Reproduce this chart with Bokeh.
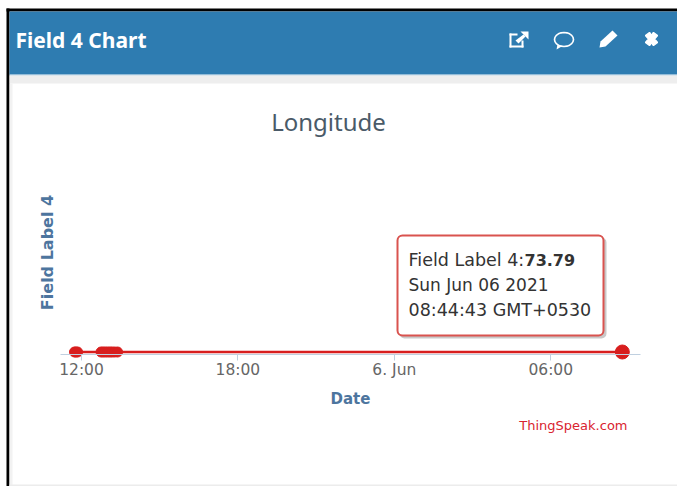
import math
from datetime import datetime
from bokeh.plotting import figure
from bokeh.models import (BoxAnnotation, PolyAnnotation, Label, Range1d, FixedTicker)
from bokeh.embed import file_html
from bokeh.resources import INLINE

times = ["2021-06-05 11:44", "2021-06-05 11:47", "2021-06-05 11:51",
         "2021-06-05 12:45", "2021-06-05 12:50", "2021-06-05 12:55", "2021-06-05 13:00",
         "2021-06-05 13:05", "2021-06-05 13:10", "2021-06-05 13:16", "2021-06-05 13:23",
         "2021-06-06 08:44:43"]
values = [73.79, 73.79, 73.79, 73.79, 73.79, 73.79, 73.79, 73.79, 73.79, 73.79, 73.79, 73.79]
tick_times = ["2021-06-05 12:00", "2021-06-05 18:00", "2021-06-06 00:00", "2021-06-06 06:00"]
tick_labels = ["12:00", "18:00", "6. Jun", "06:00"]
x_limits = ["2021-06-05 08:53:36", "2021-06-06 10:51:43"]
y_limits = [72.445, 77.305]
x_axis_at = 73.765
x_axis_span = ["2021-06-05 11:11:40", "2021-06-06 09:27:00"]
y_axis_at = "2021-06-05 11:11:40"
y_axis_span = [73.77, 75.81]

def ms(s):
    fmt = "%Y-%m-%d %H:%M:%S" if s.count(":") == 2 else "%Y-%m-%d %H:%M"
    return (datetime.strptime(s, fmt) - datetime(1970, 1, 1)).total_seconds() * 1000

xs = [ms(t) for t in times]
ticks = [ms(t) for t in tick_times]

RED = "#d81e1e"
BLUE = "#2e7cb1"
AX = "#4d759e"
W, H = 677, 486

p = figure(width=W, height=H, output_backend="svg", toolbar_location=None,
           x_axis_type="datetime",
           x_range=Range1d(ms(x_limits[0]), ms(x_limits[1])),
           y_range=Range1d(y_limits[0], y_limits[1]),
           min_border_left=0, min_border_right=0, min_border_top=0, min_border_bottom=0,
           background_fill_color="white", border_fill_color="white", outline_line_color=None)
p.grid.visible = False

xa = p.xaxis[0]
xa.fixed_location = x_axis_at
xa.bounds = (ms(x_axis_span[0]), ms(x_axis_span[1]))
xa.ticker = FixedTicker(ticks=ticks)
xa.major_label_overrides = {t: l for t, l in zip(ticks, tick_labels)}
xa.axis_line_color = "#c0d0e0"
xa.major_tick_line_color = "#c0d0e0"
xa.major_tick_out = 6
xa.major_tick_in = 0
xa.minor_tick_line_color = None
xa.major_label_text_color = "#666666"
xa.major_label_text_font = "DejaVu Sans"
xa.major_label_text_font_size = "15.5px"
xa.major_label_standoff = 0
xa.axis_label = "Date"
xa.axis_label_text_color = AX
xa.axis_label_text_font = "DejaVu Sans"
xa.axis_label_text_font_style = "bold"
xa.axis_label_text_font_size = "15px"
xa.axis_label_standoff = 8

ya = p.yaxis[0]
ya.fixed_location = ms(y_axis_at)
ya.bounds = (y_axis_span[0], y_axis_span[1])
ya.ticker = FixedTicker(ticks=[])
ya.axis_line_color = None
ya.major_tick_line_color = None
ya.minor_tick_line_color = None
ya.axis_label = "Field Label 4"
ya.axis_label_text_color = AX
ya.axis_label_text_font = "DejaVu Sans"
ya.axis_label_text_font_style = "bold"
ya.axis_label_text_font_size = "16px"
ya.axis_label_standoff = 4

p.line(xs, values, line_color=RED, line_width=2.5)
p.scatter(xs[:-1], values[:-1], size=10, color=RED)
p.scatter(xs[-1:], values[-1:], size=14, color=RED)

LEVEL = "annotation"

def box(l, t, r, b, color, alpha=1, line=None, **kw):
    p.add_layout(BoxAnnotation(left=l, right=r, top=t, bottom=b,
                               left_units="canvas", right_units="canvas",
                               top_units="canvas", bottom_units="canvas",
                               fill_color=color, fill_alpha=alpha,
                               line_color=line, line_alpha=1, level=LEVEL, **kw))

def poly(px, py, fill=None, line=None, lw=1.5):
    p.add_layout(PolyAnnotation(xs=px, ys=py, xs_units="canvas", ys_units="canvas",
                                fill_color=fill, fill_alpha=1 if fill else 0,
                                line_color=line, line_alpha=1, line_width=lw, level=LEVEL))

def text(x, y, s, size, color, font="DejaVu Sans", style="normal", align="left"):
    p.add_layout(Label(x=x, y=y, x_units="canvas", y_units="canvas", text=s,
                       text_font=font, text_font_size=size, text_color=color,
                       text_font_style=style, text_align=align, text_baseline="middle",
                       level=LEVEL))

# panel chrome
box(6, 8, W, 11, "#000000")
box(6, 8, 9, H, "#000000")
box(9, 11, W, 74, BLUE)
box(9, 74, W, 75, "#8fbbd8")
box(9, 75, W, 83, "#eeeeee")
box(9, 83, 12, H, "#f2f2f2")
box(9, 484, W, 486, "#ececec")
text(15, 39, "Field 4 Chart", "21px", "#ffffff", font="Noto Sans", style="bold")

# header icons
WHITE = "#ffffff"
box(509, 33, 517, 35, WHITE)
box(509, 33, 511, 47, WHITE)
box(509, 45, 523, 47, WHITE)
box(521, 40, 523, 47, WHITE)
poly([515, 518, 525, 523], [40, 43, 36, 34], fill=WHITE)
poly([520, 528, 528], [31, 31, 39], fill=WHITE)
ell = [i * math.pi / 10 for i in range(20)]
poly([563.5 + 9.5 * math.cos(a) for a in ell], [39 + 7 * math.sin(a) for a in ell], line=WHITE, lw=1.6)
poly([557, 556, 562], [44, 49, 45.5], fill=WHITE)
poly([600, 612, 617, 605, 599], [41, 30, 35, 46, 47], fill=WHITE)
poly([645, 649, 651, 653, 657, 654, 657, 653, 651, 649, 645, 648],
     [35, 32, 35, 32, 35, 38.5, 42, 45, 42, 45, 42, 38.5], fill=WHITE, line=WHITE, lw=1.5)

# chart texts
text(328, 121, "Longitude", "24px", "#4a5a68", font="Noto Sans", align="center")
text(627, 425, "ThingSpeak.com", "13px", "#d9232f", align="right")

# tooltip
box(399, 237, 606, 338, "#888888", alpha=0.45, border_radius=5)
box(397, 235, 603, 335, "#ffffff", line="#d9534f", line_width=2, border_radius=5)
text(408, 259, "Field Label 4:", "17.5px", "#333333")
text(524, 259, "73.79", "16px", "#333333", style="bold")
text(408, 284, "Sun Jun 06 2021", "17px", "#333333")
text(408, 309, "08:44:43 GMT+0530", "17.5px", "#333333")

open("out.html", "w").write(file_html(p, INLINE))
